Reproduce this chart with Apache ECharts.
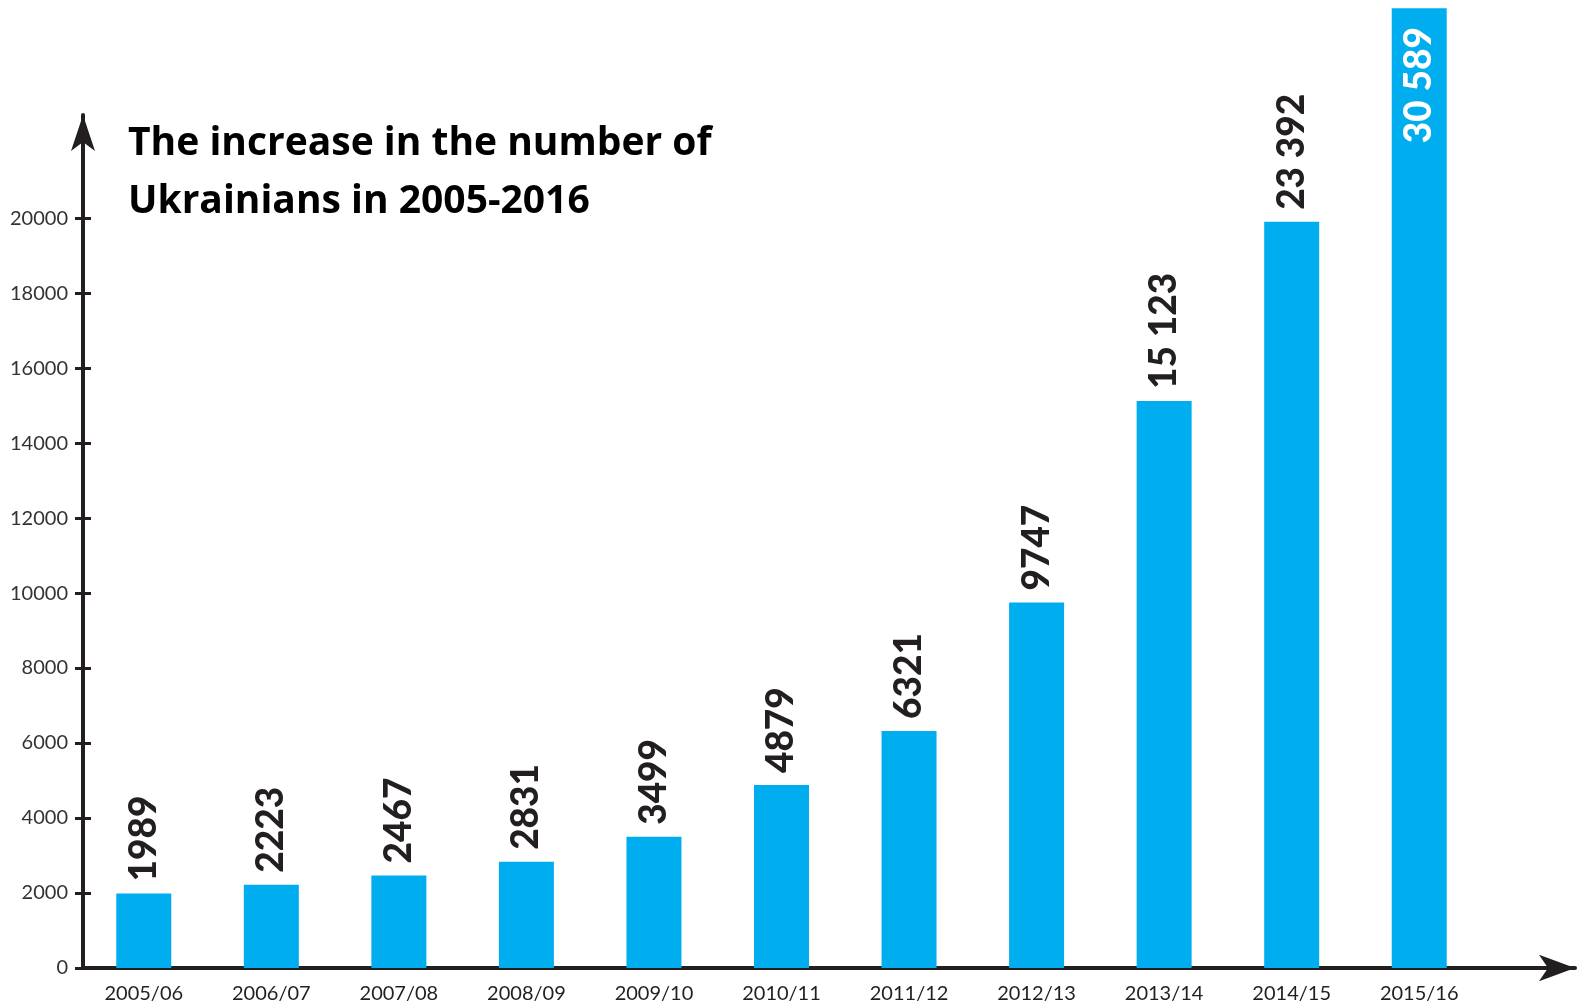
<!DOCTYPE html>
<html><head><meta charset="utf-8">
<script src="https://cdn.jsdelivr.net/npm/echarts@6/dist/echarts.min.js"></script>
<style>html,body{margin:0;padding:0;background:#fff}#c{width:1581px;height:1008px}</style>
</head><body><div id="c"></div>
<script>
// ---- data ----
const categories = ['2005/06','2006/07','2007/08','2008/09','2009/10','2010/11','2011/12','2012/13','2013/14','2014/15','2015/16'];
// numbers printed above the bars
const printedValues = ['1989','2223','2467','2831','3499','4879','6321','9747','15 123','23 392','30 589'];
// bar heights as drawn against the y axis (last two bars are drawn truncated in the original)
const barHeights = [1989, 2223, 2467, 2831, 3499, 4879, 6321, 9747, 15123, 19900, 25600];
const yTickValues = [0, 2000, 4000, 6000, 8000, 10000, 12000, 14000, 16000, 18000, 20000];
const titleText = 'The increase in the number of\nUkrainians in 2005-2016';

// ---- layout ----
const BOTTOM = 40, TOP = 115;
const Y_MAX = 22750;
const dark = '#231f20';
const cyan = '#00aeef';
const last = barHeights.length - 1;

const chart = echarts.init(document.getElementById('c'), null, {renderer: 'canvas'});
chart.setOption({
  backgroundColor: '#fff',
  animation: false,
  title: {
    text: titleText, left: 123, top: 110,
    textStyle: {fontFamily: 'Open Sans', fontWeight: 'bold', fontSize: 39, lineHeight: 58, color: '#000'}
  },
  grid: [
    {left: 80, right: 98, top: TOP, bottom: BOTTOM},
    {left: 83, right: 6, top: TOP, bottom: BOTTOM}
  ],
  xAxis: [
    {type: 'category', gridIndex: 0, data: categories,
     axisLine: {show: false}, axisTick: {show: false},
     axisLabel: {margin: 16, fontSize: 20, fontFamily: 'Lato', color: dark}},
    {type: 'value', gridIndex: 1, min: 0, max: 1,
     axisLine: {show: true, symbol: ['none', 'arrow'], symbolSize: [20, 36], lineStyle: {color: dark, width: 4}},
     axisTick: {show: false}, axisLabel: {show: false}, splitLine: {show: false}}
  ],
  yAxis: [
    {type: 'value', gridIndex: 0, min: 0, max: Y_MAX, show: false, splitLine: {show: false}},
    {type: 'value', gridIndex: 1, min: 0, max: Y_MAX,
     axisLine: {show: true, symbol: ['none', 'arrow'], symbolSize: [18, 36], lineStyle: {color: dark, width: 4}},
     axisTick: {show: true, customValues: yTickValues, length: 8, lineStyle: {color: dark, width: 3}},
     axisLabel: {customValues: yTickValues, margin: 15, fontSize: 20, fontFamily: 'Lato', color: '#333',
                 formatter: v => String(v)},
     splitLine: {show: false}},
    {type: 'value', gridIndex: 1, min: 0, max: Y_MAX, position: 'left',
     axisLine: {show: false},
     axisTick: {show: true, inside: true, customValues: yTickValues, length: 8, lineStyle: {color: dark, width: 3}},
     axisLabel: {show: false}, splitLine: {show: false}}
  ],
  series: [{
    type: 'bar', xAxisIndex: 0, yAxisIndex: 0, clip: false,
    barWidth: 55,
    itemStyle: {color: cyan},
    data: barHeights.map((v, i) => i === last ? {
      value: v,
      label: {position: 'insideTop', distance: 19, align: 'right', verticalAlign: 'middle', color: '#fff'}
    } : v),
    label: {
      show: true, position: 'top', distance: 12, rotate: 90, align: 'left', verticalAlign: 'middle',
      fontFamily: 'Lato', fontWeight: 900, fontSize: 37, color: dark,
      formatter: p => printedValues[p.dataIndex]
    }
  }]
});
</script></body></html>
